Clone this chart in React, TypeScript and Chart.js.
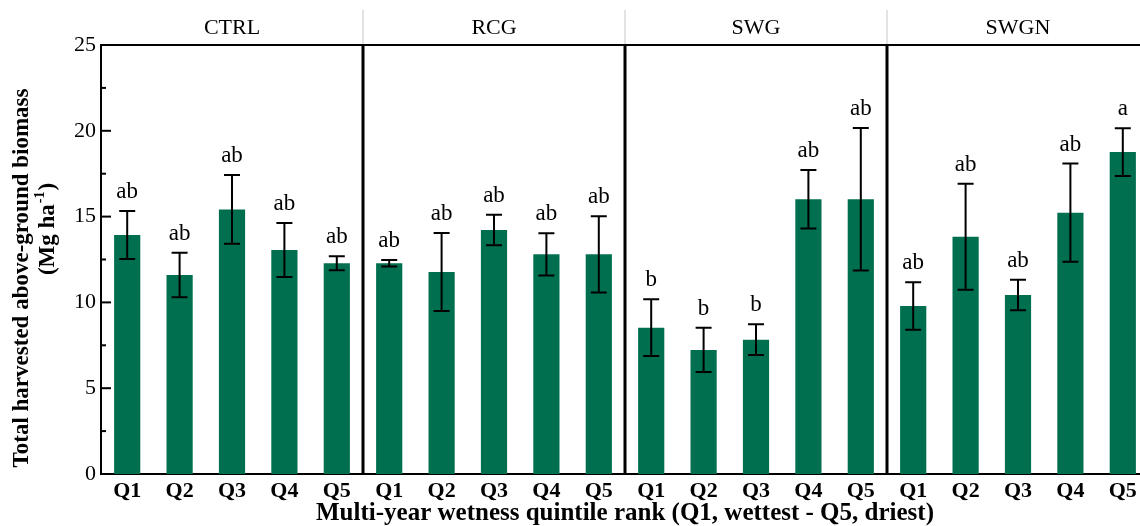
import React, { useEffect, useRef } from 'react';
import { Chart, registerables } from 'chart.js';

Chart.register(...registerables);

// ---- data ----
const panelNames = ['CTRL', 'RCG', 'SWG', 'SWGN'];
const quintiles = ['Q1', 'Q2', 'Q3', 'Q4', 'Q5'];

const ctrlMean = [13.93, 11.6, 15.42, 13.05, 12.28];
const ctrlSE = [1.4, 1.3, 2.0, 1.57, 0.41];
const ctrlLetters = ['ab', 'ab', 'ab', 'ab', 'ab'];

const rcgMean = [12.28, 11.77, 14.22, 12.8, 12.8];
const rcgSE = [0.19, 2.27, 0.89, 1.23, 2.22];
const rcgLetters = ['ab', 'ab', 'ab', 'ab', 'ab'];

const swgMean = [8.53, 7.23, 7.83, 16.01, 16.01];
const swgSE = [1.65, 1.29, 0.9, 1.7, 4.15];
const swgLetters = ['b', 'b', 'b', 'ab', 'ab'];

const swgnMean = [9.79, 13.83, 10.43, 15.23, 18.76];
const swgnSE = [1.39, 3.09, 0.89, 2.86, 1.39];
const swgnLetters = ['ab', 'ab', 'ab', 'ab', 'a'];

const yMin = 0;
const yMax = 25;
const yStep = 5;

const xTitle = 'Multi-year wetness quintile rank (Q1, wettest - Q5, driest)';
const yTitleLine1 = 'Total harvested above-ground biomass';
const yTitleLine2a = '(Mg ha';
const yTitleSup = '-1';
const yTitleLine2b = ')';

// ---- derived tables ----
const labels = panelNames.flatMap(() => quintiles);
const means = [...ctrlMean, ...rcgMean, ...swgMean, ...swgnMean];
const ses = [...ctrlSE, ...rcgSE, ...swgSE, ...swgnSE];
const letters = [...ctrlLetters, ...rcgLetters, ...swgLetters, ...swgnLetters];

const SERIF = "'Liberation Serif', 'Times New Roman', serif";
const BAR = '#006F50';

const decorPlugin = {
  id: 'decor',
  afterDatasetsDraw(chart: any) {
    const ctx = chart.ctx;
    const x = chart.scales.x;
    const y = chart.scales.y;
    ctx.save();
    ctx.strokeStyle = '#000';
    ctx.lineWidth = 2;
    ctx.fillStyle = '#000';
    ctx.font = `23px ${SERIF}`;
    ctx.textAlign = 'center';
    ctx.textBaseline = 'alphabetic';
    means.forEach((m, i) => {
      const cx = x.getPixelForValue(i);
      const top = y.getPixelForValue(m + ses[i]);
      const bot = y.getPixelForValue(m - ses[i]);
      ctx.beginPath();
      ctx.moveTo(cx, top);
      ctx.lineTo(cx, bot);
      ctx.moveTo(cx - 8, top);
      ctx.lineTo(cx + 8, top);
      ctx.moveTo(cx - 8, bot);
      ctx.lineTo(cx + 8, bot);
      ctx.stroke();
      ctx.fillText(letters[i], cx, top - 13);
    });
    ctx.restore();
  },
  afterDraw(chart: any) {
    const ctx = chart.ctx;
    const area = chart.chartArea;
    const x = chart.scales.x;
    const y = chart.scales.y;
    const nPer = quintiles.length;
    const bounds: number[] = [];
    for (let p = 0; p <= panelNames.length; p++) {
      if (p === 0) bounds.push(area.left);
      else if (p === panelNames.length) bounds.push(area.right);
      else bounds.push((x.getPixelForValue(p * nPer - 1) + x.getPixelForValue(p * nPer)) / 2);
    }
    ctx.save();
    // top frame line
    ctx.strokeStyle = '#000';
    ctx.lineWidth = 2;
    ctx.beginPath();
    ctx.moveTo(area.left - 1, area.top);
    ctx.lineTo(area.right, area.top);
    ctx.stroke();
    // panel dividers
    ctx.lineWidth = 3;
    for (let p = 1; p < panelNames.length; p++) {
      ctx.beginPath();
      ctx.moveTo(bounds[p], area.top);
      ctx.lineTo(bounds[p], area.bottom);
      ctx.stroke();
    }
    // light dividers in title strip
    ctx.strokeStyle = '#d8d8d8';
    ctx.lineWidth = 1.5;
    for (let p = 1; p < panelNames.length; p++) {
      ctx.beginPath();
      ctx.moveTo(bounds[p], 10);
      ctx.lineTo(bounds[p], area.top - 1);
      ctx.stroke();
    }
    // panel titles
    ctx.fillStyle = '#000';
    ctx.font = `22px ${SERIF}`;
    ctx.textAlign = 'center';
    ctx.textBaseline = 'middle';
    panelNames.forEach((name, p) => {
      ctx.fillText(name, (bounds[p] + bounds[p + 1]) / 2, 28);
    });
    // inward y ticks
    ctx.strokeStyle = '#000';
    ctx.lineWidth = 2;
    for (let v = yMin; v <= yMax; v += yStep / 2) {
      const py = y.getPixelForValue(v);
      const major = Math.abs(v % yStep) < 1e-9;
      ctx.beginPath();
      ctx.moveTo(area.left, py);
      ctx.lineTo(area.left + (major ? 10 : 5), py);
      ctx.stroke();
    }
    // y title
    ctx.fillStyle = '#000';
    ctx.textBaseline = 'middle';
    ctx.save();
    ctx.translate(22, 278);
    ctx.rotate(-Math.PI / 2);
    ctx.font = `bold 23px ${SERIF}`;
    ctx.textAlign = 'center';
    ctx.fillText(yTitleLine1, 0, 0);
    ctx.restore();
    ctx.save();
    ctx.translate(48, 229);
    ctx.rotate(-Math.PI / 2);
    ctx.textAlign = 'left';
    const bigF = `bold 23px ${SERIF}`;
    const supF = `bold 14px ${SERIF}`;
    ctx.font = bigF;
    const wa = ctx.measureText(yTitleLine2a).width;
    const wc = ctx.measureText(yTitleLine2b).width;
    ctx.font = supF;
    const wb = ctx.measureText(yTitleSup).width;
    let sx = -(wa + wb + wc + 2) / 2;
    ctx.font = bigF;
    ctx.fillText(yTitleLine2a, sx, 0);
    sx += wa + 1;
    ctx.font = supF;
    ctx.fillText(yTitleSup, sx, -8);
    sx += wb + 1;
    ctx.font = bigF;
    ctx.fillText(yTitleLine2b, sx, 0);
    ctx.restore();
    ctx.restore();
  },
};

export default function App() {
  const ref = useRef<HTMLCanvasElement>(null);
  useEffect(() => {
    if (!ref.current) return;
    const chart = new Chart(ref.current, {
      type: 'bar',
      data: {
        labels,
        datasets: [
          {
            data: means,
            backgroundColor: BAR,
            borderWidth: 0,
            barPercentage: 0.5,
            categoryPercentage: 1.0,
          },
        ],
      },
      options: {
        responsive: false,
        animation: false,
        events: [],
        layout: { padding: { top: 45, right: 1, left: 0, bottom: 0 } },
        plugins: {
          legend: { display: false },
          tooltip: { enabled: false },
        },
        scales: {
          x: {
            type: 'category',
            offset: true,
            grid: { display: false, drawTicks: false },
            border: { display: true, color: '#000', width: 2 },
            ticks: {
              color: '#000',
              font: { family: SERIF, size: 22, weight: 'bold' },
              padding: 4,
              maxRotation: 0,
              autoSkip: false,
            },
            title: {
              display: true,
              text: xTitle,
              color: '#000',
              font: { family: SERIF, size: 25, weight: 'bold', lineHeight: 1 },
              padding: { top: 0, bottom: 0 },
            },
            afterFit: (s: any) => {
              s.height = 52;
            },
          },
          y: {
            min: yMin,
            max: yMax,
            grid: { display: false, drawTicks: false },
            border: { display: true, color: '#000', width: 2 },
            ticks: {
              stepSize: yStep,
              color: '#000',
              font: { family: SERIF, size: 22 },
              padding: 5,
            },
            afterFit: (s: any) => {
              s.width = 101;
            },
          },
        },
      },
      plugins: [decorPlugin],
    });
    return () => chart.destroy();
  }, []);
  return (
    <div
      style={{
        position: 'absolute',
        left: 0,
        top: 0,
        width: 1140,
        height: 526,
        overflow: 'hidden',
        background: '#fff',
      }}
    >
      <canvas ref={ref} width={1150} height={526} style={{ display: 'block' }} />
    </div>
  );
}
